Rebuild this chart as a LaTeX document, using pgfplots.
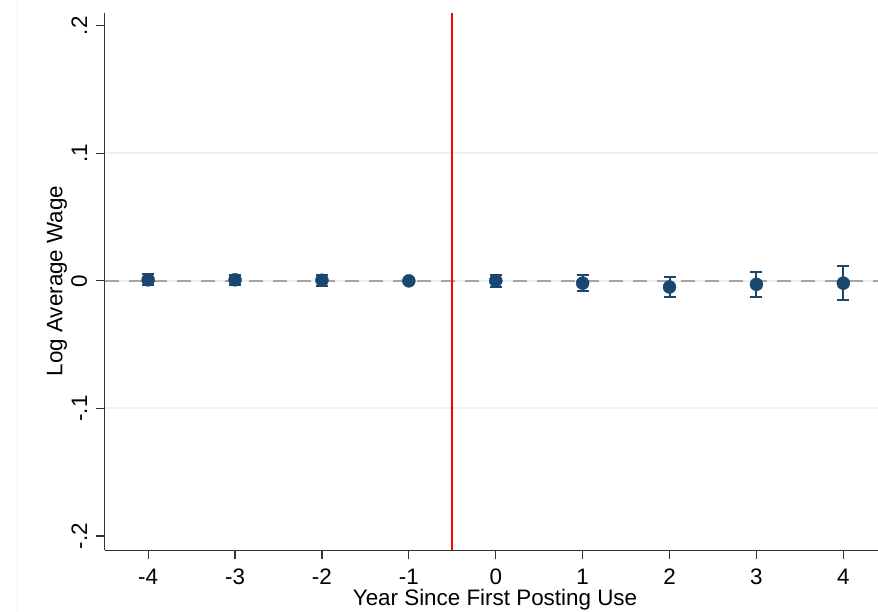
\documentclass[border=0pt]{standalone}
\usepackage{pgfplots}
\pgfplotsset{compat=1.18}
\usepackage{fontspec}
\setmainfont{Liberation Sans}
\definecolor{stblue}{RGB}{26,71,111}
\definecolor{gridc}{RGB}{234,242,243}
\definecolor{zeroc}{RGB}{165,165,165}
\pgfplotstableread{
x   y        ep      em
-4  0.0008   0.0042  0.0042
-3  0.0008   0.0040  0.0040
-2  0.0005   0.0042  0.0042
-1  0.0      0.0     0.0
0   0.0001   0.0046  0.0046
1   -0.0018  0.0065  0.0065
2   -0.0048  0.0082  0.0082
3   -0.0027  0.0100  0.0100
4   -0.0018  0.0132  0.0132
}\datatab
\begin{document}
\fontsize{22.4}{26}\selectfont
\begin{tikzpicture}
\useasboundingbox (-104.7pt,-61.7pt) rectangle (773.3pt,550.3pt);
\fill[white] (-104.7pt,-61.7pt) rectangle (773.3pt,550.3pt);
\draw[color={rgb,255:red,238;green,242;blue,242}, line width=1pt] (-87.5pt,-61.7pt) -- (-87.5pt,550.3pt);
\begin{axis}[
  at={(0,0)}, anchor=south west, scale only axis,
  width=773.3pt, height=537.6pt,
  xmin=-4.5, xmax=4.399, ymin=-0.2112, ymax=0.2102,
  axis x line*=bottom, axis y line*=left,
  axis line style={-, line width=1.2pt, color=black!80},
  xtick={-4,-3,-2,-1,0,1,2,3,4},
  xticklabels={-4,-3,-2,-1,0,1,2,3,4},
  ytick={-0.2,-0.1,0,0.1,0.2},
  yticklabels={-.2,-.1,0,.1,.2},
  tick align=outside, major tick length=9pt,
  tick style={line width=1.2pt, color=black!80},
  xticklabel style={inner sep=0pt, anchor=north, font=\fontsize{22.4}{26}\selectfont},
  yticklabel style={inner sep=0pt, rotate=90, anchor=south, font=\fontsize{22.4}{26}\selectfont},
  xticklabel shift=9.5pt,
  yticklabel shift=8.5pt,
  xlabel={Year Since First Posting Use},
  ylabel={Log Average Wage},
  label style={font=\fontsize{22.4}{26}\selectfont},
  xlabel style={at={(axis description cs:0.5047,-0.0915)}, anchor=center},
  ylabel style={at={(axis description cs:-0.0617,0.501)}, anchor=center},
]
\addplot[gridc, line width=2pt, forget plot] coordinates {(-4.5,0.1) (4.399,0.1)};
\addplot[gridc, line width=2pt, forget plot] coordinates {(-4.5,-0.1) (4.399,-0.1)};
\addplot[gridc, line width=2pt, forget plot] coordinates {(-4.5,0) (4.399,0)};
\addplot[zeroc, line width=2pt, dash pattern=on 14pt off 10pt, forget plot] coordinates {(-4.5,0) (4.399,0)};
\addplot[red, line width=1.8pt, forget plot] coordinates {(-0.5,-0.2112) (-0.5,0.2102)};
\addplot[only marks, mark=*, mark size=6.5pt, color=stblue,
  mark options={fill=stblue, draw=stblue},
  error bars/.cd, y dir=both, y explicit,
  error mark=-,
  error bar style={line width=2pt, color=stblue},
  error mark options={line width=2pt, mark size=6pt, color=stblue, rotate=90}]
  table[x=x, y=y, y error plus=ep, y error minus=em] {\datatab};
\end{axis}
\end{tikzpicture}
\end{document}
